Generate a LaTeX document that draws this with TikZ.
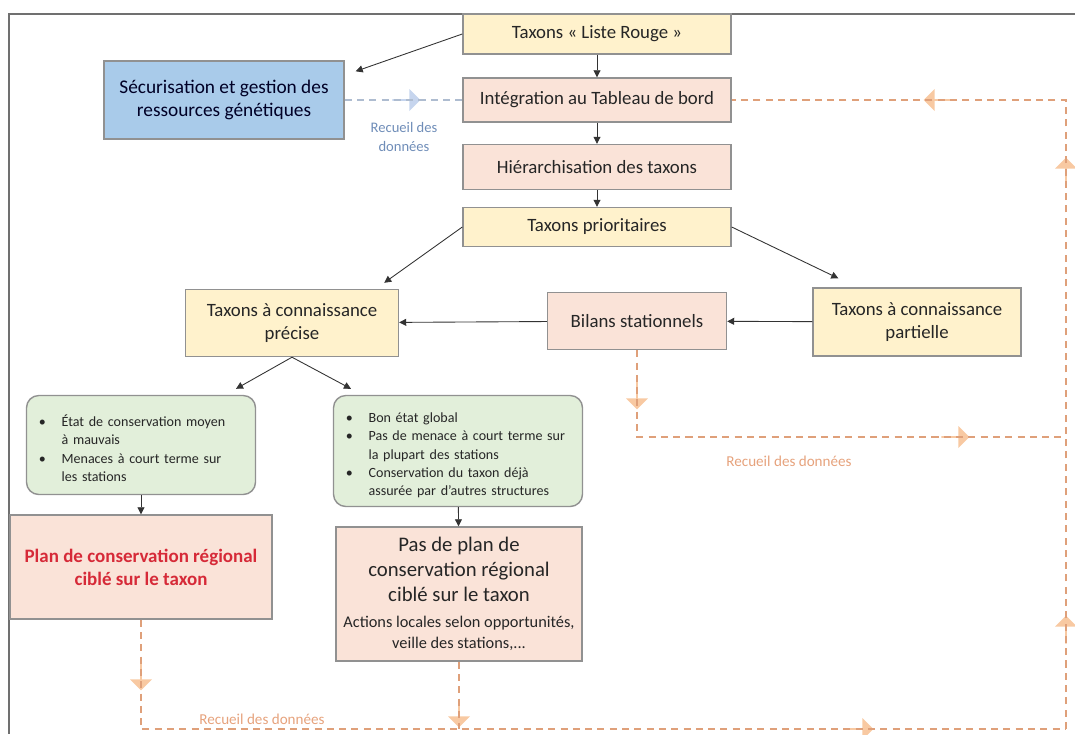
\documentclass[tikz,border=0pt]{standalone}
\usepackage{fontspec}
\setmainfont{Carlito}
\usepackage{enumitem}
\usetikzlibrary{arrows.meta,shapes.arrows}

\definecolor{boxyellow}{HTML}{FFF2CC}
\definecolor{boxpink}{HTML}{FAE3D8}
\definecolor{boxblue}{HTML}{A9CBEA}
\definecolor{boxgreen}{HTML}{E2EFDA}
\definecolor{boxline}{HTML}{919191}
\definecolor{framegray}{HTML}{707070}
\definecolor{dataorange}{HTML}{DFA07A}
\definecolor{markorange}{HTML}{F8C9A2}
\definecolor{datablue}{HTML}{AEBCD0}
\definecolor{markblue}{HTML}{C6D5EE}
\definecolor{labelblue}{HTML}{6F8DB8}
\definecolor{labelorange}{HTML}{E6A27C}
\definecolor{planred}{HTML}{D62A38}
\definecolor{textdark}{HTML}{262626}

\newcommand{\unitpx}{0.02cm}

\tikzset{
  box/.style={draw=boxline, line width=0.8pt, align=center, inner sep=2pt,
    text=textdark, font=\fontsize{10.7}{13}\selectfont},
  yellowbox/.style={box, fill=boxyellow},
  pinkbox/.style={box, fill=boxpink},
  bluebox/.style={box, fill=boxblue, text=black!75!blue!60!black, font=\fontsize{11}{13.5}\selectfont},
  greenbox/.style={draw=boxline, line width=0.8pt, fill=boxgreen, text=textdark,
    rounded corners=7pt, inner sep=0pt, font=\fontsize{8}{10.4}\selectfont},
  flow/.style={-{Triangle[length=4pt,width=4pt]}, line width=0.5pt, black!80},
  datalink/.style={dataorange, line width=1.1pt, dash pattern=on 4pt off 3pt},
  bluelink/.style={datablue, line width=1.1pt, dash pattern=on 4pt off 3pt},
  datamark/.style={single arrow, fill=markorange, draw=none, inner sep=0pt,
    minimum width=22*\unitpx, minimum height=28*\unitpx,
    single arrow head extend=2.5pt},
  bluemark/.style={datamark, fill=markblue},
  orangelabel/.style={labelorange, font=\fontsize{8.6}{10}\selectfont},
  bluelabel/.style={labelblue, align=center, font=\fontsize{8.3}{10.5}\selectfont}
}

\setlist[itemize]{label=\textbullet, leftmargin=16pt, labelsep=9pt,
  itemsep=0pt, topsep=0pt, parsep=0pt, partopsep=0pt}

\begin{document}
\begin{tikzpicture}[x=0.02cm, y=-0.02cm]
    \useasboundingbox (0,0) rectangle (1075,734);
    \draw[framegray, line width=0.7pt] (1075,14) -- (9,14) -- (9,734);

    % main column
    \node[yellowbox, minimum width=268*\unitpx, minimum height=40*\unitpx] (liste) at (597,34) {Taxons « Liste Rouge »};
    \node[pinkbox, minimum width=268*\unitpx, minimum height=44*\unitpx] (integ) at (597,100) {Intégration au Tableau de bord};
    \node[pinkbox, minimum width=268*\unitpx, minimum height=45*\unitpx] (hier) at (597,167) {Hiérarchisation des taxons};
    \node[yellowbox, minimum width=268*\unitpx, minimum height=39*\unitpx] (prio) at (597,227) {Taxons prioritaires};
    \node[bluebox, minimum width=240*\unitpx, minimum height=78*\unitpx] (secu) at (224,100) {Sécurisation et gestion des\\ressources génétiques};

    % second row
    \node[yellowbox, minimum width=213*\unitpx, minimum height=67*\unitpx] (precise) at (292,323) {Taxons à connaissance\\précise};
    \node[pinkbox, minimum width=179*\unitpx, minimum height=57*\unitpx] (bilans) at (637,321) {Bilans stationnels};
    \node[yellowbox, minimum width=208*\unitpx, minimum height=68*\unitpx] (partielle) at (917,322) {Taxons à connaissance\\partielle};

    % criteria
    \node[greenbox, minimum width=229*\unitpx, minimum height=99*\unitpx, text width=215*\unitpx] (mauvais) at (141,445) {%
      \begin{itemize}
        \item État de conservation moyen\newline à mauvais
        \item Menaces à court terme sur\newline les stations
      \end{itemize}};
    \node[greenbox, minimum width=249*\unitpx, minimum height=111*\unitpx, text width=235*\unitpx] (bon) at (458,451) {%
      \begin{itemize}
        \item Bon état global
        \item Pas de menace à court terme sur\newline la plupart des stations
        \item Conservation du taxon déjà\newline assurée par d'autres structures
      \end{itemize}};

    % outcomes
    \node[pinkbox, minimum width=262*\unitpx, minimum height=104*\unitpx, text=planred, font=\bfseries\fontsize{10.8}{13.2}\selectfont] (plan) at (141,567) {Plan de conservation régional\\ciblé sur le taxon};
    \node[pinkbox, minimum width=246*\unitpx, minimum height=134*\unitpx, font=\fontsize{11.8}{14}\selectfont] (pasplan) at (459,594) {Pas de plan de\\conservation régional\\ciblé sur le taxon\\[1pt]{\fontsize{9.3}{11}\selectfont Actions locales selon opportunités,}\\[-2pt]{\fontsize{9.3}{11}\selectfont veille des stations,...}};

    % flow arrows
    \draw[flow] (liste.west) -- ([shift={(11*\unitpx,-11*\unitpx)}]secu.north east);
    \draw[flow] (liste) -- (integ);
    \draw[flow] (integ) -- (hier);
    \draw[flow] (hier) -- (prio);
    \draw[flow] (prio.west) -- ([shift={(-15*\unitpx,6*\unitpx)}]precise.north east);
    \draw[flow] (prio.east) -- ([shift={(26*\unitpx,9*\unitpx)}]partielle.north west);
    \draw[flow] (partielle) -- (bilans);
    \draw[flow] (bilans) -- (precise);
    \draw[flow] (precise.south) -- ([shift={(95*\unitpx,6*\unitpx)}]mauvais.north);
    \draw[flow] (precise.south) -- ([shift={(-107*\unitpx,6*\unitpx)}]bon.north);
    \draw[flow] (mauvais) -- (plan);
    \draw[flow] (bon) -- (pasplan);

    % data collection loop
    \coordinate (topcorner) at (1066,100);
    \coordinate (botcorner) at (1066,729);
    \coordinate (bilcorner) at (1066,437);
    \node[datamark, shape border rotate=180] (m1) at (938,100) {};
    \node[datamark, shape border rotate=90] (m2) at (1066,172) {};
    \node[datamark, shape border rotate=90] (m3) at (1066,630) {};
    \node[datamark, shape border rotate=270] (m4) at (637,395) {};
    \node[datamark] (m5) at (955,437) {};
    \node[datamark, shape border rotate=270] (m6) at (141,676) {};
    \node[datamark, shape border rotate=270] (m7) at (459,713) {};
    \node[datamark] (m8) at (859,729) {};
    \node[bluemark] (m9) at (406,100) {};
    \draw[datalink] (botcorner) -- (topcorner) -- (integ.east);
    \draw[datalink] (bilans.south) |- (bilcorner);
    \draw[datalink] (plan.south) |- (botcorner);
    \draw[datalink] (pasplan.south) -- (pasplan.south |- botcorner);
    \draw[bluelink] (secu.east) -- (integ.west);
    \node[bluelabel] (lab1) at (404,137) {Recueil des\\données};
    \node[orangelabel] (lab2) at (789,461) {Recueil des données};
    \node[orangelabel] (lab3) at (262,719) {Recueil des données};
\end{tikzpicture}
\end{document}
